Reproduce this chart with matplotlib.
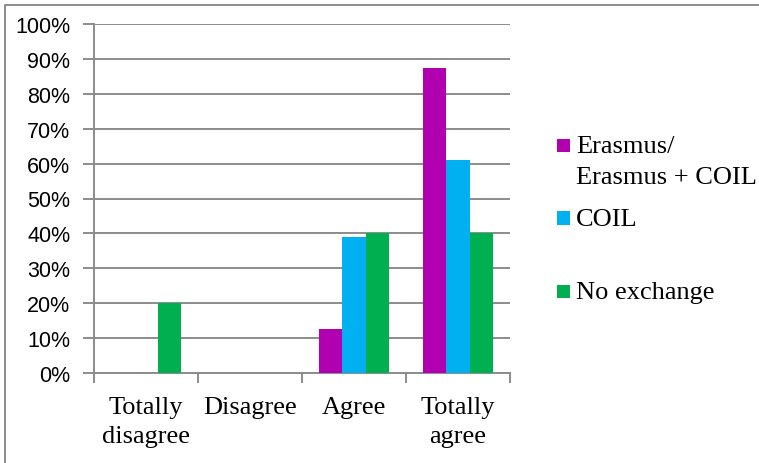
import matplotlib
matplotlib.use("Agg")
import matplotlib.pyplot as plt
import numpy as np
from matplotlib.patches import Rectangle
from matplotlib.lines import Line2D

categories = ["Totally\ndisagree", "Disagree", "Agree", "Totally\nagree"]
series_names = ["Erasmus/\nErasmus + COIL", "COIL", "No exchange"]
erasmus = [0, 0, 12.5, 87.5]
coil = [0, 0, 38.9, 61.1]
no_exchange = [20, 0, 40, 40]
colors = ["#B000B0", "#00B0F0", "#00B050"]

W, H = 759, 464
fig = plt.figure(figsize=(W/100, H/100), dpi=100)
ax = fig.add_axes([94/W, 1-374/H, (510-94)/W, (374-25)/H])

x = np.arange(len(categories))
w = 1/4.5
for i, (vals, c) in enumerate(zip([erasmus, coil, no_exchange], colors)):
    ax.bar(x + (i-1)*w, vals, width=w, color=c, zorder=3)

gray = "#8c8c8c"
ax.set_xlim(-0.5, len(categories)-0.5)
ax.set_ylim(0, 100)
ax.set_yticks(np.arange(0, 101, 10))
ax.set_yticklabels([f"{v}%" for v in range(0, 101, 10)], fontfamily="Liberation Sans", fontsize=15.5)
ax.yaxis.grid(True, color=gray, linewidth=1.4, zorder=0)
ax.set_xticks(np.arange(-0.5, len(categories), 1))
ax.set_xticklabels([])
ax.set_xticks(x, minor=True)
ax.set_xticklabels(categories, minor=True, fontfamily="Liberation Serif", fontsize=19, linespacing=1.4)
ax.tick_params(axis="x", which="minor", length=0, pad=16.5)
ax.tick_params(axis="x", which="major", length=7, color=gray, width=1.4)
ax.tick_params(axis="y", length=8, color=gray, width=1.4, pad=9)
for s in ["top", "right"]:
    ax.spines[s].set_visible(False)
for s in ["left", "bottom"]:
    ax.spines[s].set_color(gray)
    ax.spines[s].set_linewidth(1.4)

# legend (manual placement to match reference spacing)
legend_y = [146, 219, 292]
line_gap = 31
for name, c, yy in zip(series_names, colors, legend_y):
    fig.add_artist(Rectangle((557/W, 1-(yy+6.5)/H), 13/W, 13/H, transform=fig.transFigure,
                             facecolor=c, edgecolor="none"))
    for k, line in enumerate(name.split("\n")):
        fig.text(576/W, 1-(yy+7.5+k*line_gap)/H, line, ha="left", va="baseline",
                 fontfamily="Liberation Serif", fontsize=19)

# chart-area border (only top and left visible in the cropped reference)
fig.add_artist(Line2D([5/W, 5/W, 1], [0, 1-6/H, 1-6/H], transform=fig.transFigure,
                      color=gray, linewidth=1.4))
fig.savefig("out.png", dpi=100)
